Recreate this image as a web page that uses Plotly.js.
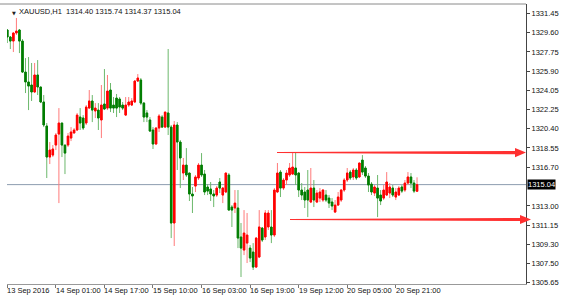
<!DOCTYPE html>
<html><head><meta charset="utf-8">
<script src="https://cdn.plot.ly/plotly-3.0.1.min.js"></script>
<style>html,body{margin:0;padding:0;background:#fff;}#c{width:562px;height:298px;}</style>
</head><body><div id="c"></div>
<script>
const openP = [1329.85,1329.18,1328.79,1329.56,1329.85,1328.79,1325.82,1324.87,1324.58,1323.91,1325.54,1324.39,1322.95,1320.65,1317.68,1317.87,1318.83,1319.88,1320.94,1318.83,1318.83,1319.50,1319.98,1320.27,1321.51,1321.42,1320.94,1322.37,1323.05,1322.09,1322.18,1321.23,1322.76,1322.37,1324.10,1322.66,1323.33,1323.24,1322.66,1321.70,1322.66,1322.66,1322.95,1324.96,1325.06,1322.85,1321.90,1321.23,1320.27,1318.93,1320.46,1321.51,1320.55,1321.90,1320.55,1311.36,1320.75,1319.12,1316.15,1316.91,1316.15,1314.14,1314.90,1315.67,1316.91,1316.05,1314.81,1314.62,1314.14,1314.04,1315.29,1314.04,1314.33,1315.96,1312.89,1312.80,1312.80,1310.02,1308.77,1309.44,1308.96,1308.58,1307.14,1308.10,1310.88,1310.02,1310.98,1310.98,1310.21,1314.33,1316.24,1314.71,1315.48,1315.96,1316.05,1316.63,1316.15,1314.52,1314.33,1314.52,1313.37,1314.71,1313.37,1313.75,1313.56,1314.04,1313.75,1313.37,1312.41,1313.08,1313.56,1314.52,1315.48,1316.24,1315.77,1316.44,1315.77,1317.39,1316.63,1315.86,1315.09,1314.23,1314.71,1314.04,1313.75,1314.04,1314.23,1314.71,1313.85,1314.04,1314.81,1314.52,1315.19,1315.77,1315.19,1314.40];
const highP = [1329.94,1329.27,1329.65,1331.00,1329.94,1328.98,1327.16,1327.26,1326.69,1326.69,1326.97,1324.39,1323.62,1320.94,1319.12,1318.83,1319.98,1322.37,1320.94,1318.83,1319.98,1320.55,1320.46,1321.90,1322.37,1321.70,1322.66,1324.10,1323.62,1322.85,1322.85,1324.58,1326.11,1325.54,1324.77,1323.43,1323.72,1323.43,1322.95,1323.43,1323.43,1323.33,1325.06,1325.63,1325.25,1322.95,1322.18,1321.51,1320.55,1320.55,1321.80,1321.70,1321.99,1328.03,1320.75,1321.13,1321.03,1319.31,1317.59,1318.54,1316.15,1314.81,1315.96,1317.11,1318.06,1316.44,1315.09,1315.29,1314.52,1314.90,1315.67,1314.81,1316.15,1316.15,1313.08,1314.52,1314.52,1311.36,1312.60,1312.32,1309.25,1309.44,1310.02,1312.60,1310.98,1312.60,1312.60,1312.60,1314.71,1317.11,1316.44,1315.67,1316.44,1317.11,1318.16,1318.16,1316.24,1315.19,1314.81,1316.44,1316.63,1315.48,1314.52,1314.71,1314.62,1314.52,1314.04,1313.75,1313.56,1314.33,1314.62,1315.67,1316.63,1316.44,1316.63,1316.63,1317.11,1317.87,1316.82,1316.15,1315.29,1315.00,1315.96,1314.52,1315.00,1316.24,1315.19,1315.00,1314.71,1314.90,1315.00,1315.48,1316.24,1316.15,1315.48,1315.74];
const lowP = [1328.60,1328.03,1327.74,1329.37,1327.64,1325.73,1323.81,1322.18,1323.05,1323.81,1323.62,1322.85,1320.55,1315.67,1317.01,1317.68,1318.35,1313.27,1317.68,1316.05,1318.64,1319.21,1319.98,1320.17,1320.27,1320.27,1320.75,1322.37,1321.03,1321.42,1320.27,1319.50,1322.18,1322.18,1321.99,1321.90,1321.51,1321.90,1322.18,1321.61,1322.47,1322.57,1322.85,1324.87,1322.66,1321.03,1321.03,1320.08,1318.45,1318.83,1320.08,1320.46,1320.46,1319.79,1309.92,1309.16,1316.44,1314.71,1315.48,1315.77,1313.47,1312.32,1314.33,1315.48,1315.77,1314.04,1314.04,1313.47,1312.89,1313.85,1314.23,1313.27,1314.23,1312.60,1310.98,1312.32,1308.96,1306.19,1308.29,1307.53,1307.62,1306.86,1307.05,1308.01,1309.54,1309.73,1310.69,1309.44,1310.02,1314.23,1313.85,1314.52,1315.00,1315.77,1315.96,1315.00,1313.85,1313.56,1312.80,1311.93,1313.27,1312.89,1313.27,1313.37,1313.37,1313.37,1312.80,1312.60,1312.32,1312.99,1313.37,1314.33,1315.29,1315.48,1315.48,1315.48,1315.67,1315.96,1315.67,1314.33,1314.04,1313.95,1311.93,1313.08,1313.56,1313.95,1313.75,1313.85,1313.56,1313.95,1314.23,1314.33,1315.00,1314.71,1314.23,1314.37];
const closeP = [1329.18,1328.79,1329.56,1329.75,1328.79,1325.82,1324.87,1324.48,1323.91,1325.54,1324.39,1322.95,1320.75,1317.68,1318.35,1318.45,1319.79,1320.94,1318.83,1318.06,1319.69,1320.08,1320.27,1321.70,1320.94,1320.46,1322.47,1323.05,1322.18,1322.37,1321.42,1322.66,1322.28,1324.00,1322.37,1322.37,1322.37,1322.47,1322.37,1322.66,1322.95,1323.05,1324.96,1325.25,1322.85,1321.51,1321.51,1320.17,1318.93,1320.46,1321.61,1320.55,1321.99,1320.55,1311.36,1320.75,1319.12,1317.59,1316.91,1315.96,1314.14,1313.95,1315.77,1316.91,1315.96,1314.33,1314.42,1314.14,1313.95,1314.71,1314.71,1314.71,1316.15,1312.60,1312.60,1313.27,1309.92,1308.96,1310.40,1310.21,1308.01,1307.14,1309.92,1310.98,1309.73,1312.32,1312.32,1310.21,1314.52,1316.15,1314.71,1315.48,1316.15,1316.63,1316.72,1315.96,1314.52,1314.04,1313.56,1313.56,1314.71,1313.56,1314.23,1314.33,1314.52,1313.56,1313.27,1312.99,1313.08,1313.85,1314.52,1315.48,1316.15,1315.67,1316.44,1315.67,1317.11,1316.24,1315.86,1315.00,1314.33,1314.81,1313.75,1313.47,1314.52,1315.29,1314.81,1314.04,1314.33,1314.71,1314.42,1315.19,1315.77,1315.19,1314.42,1315.04];

const xTickIdx = [0,16,32,48,64,80,96,112,128];
const xTickLabels = ["13 Sep 2016","14 Sep 01:00","14 Sep 17:00","15 Sep 10:00","16 Sep 03:00","16 Sep 19:00","19 Sep 12:00","20 Sep 05:00","20 Sep 21:00"];
const yTickVals = [1331.45,1329.60,1327.75,1325.90,1324.05,1322.25,1320.40,1318.55,1316.70,1313.00,1311.15,1309.30,1307.50,1305.65];
const lastPrice = 1315.04;
const upperLevel = 1318.11;
const lowerLevel = 1311.70;
const header = "XAUUSD,H1  1314.40 1315.74 1314.37 1315.04";

const idx = openP.map((_, i) => i);
const bodyHigh = openP.map((o, i) => Math.max(o, closeP[i]));
const bodyLow = openP.map((o, i) => Math.min(o, closeP[i]));

const RED = '#ff0000', RED_W = '#ff7a7a', GRN = '#007d00', GRN_W = '#6cb86c';

const traces = [
  {type:'candlestick', x:idx, open:openP, high:highP, low:lowP, close:closeP,
   increasing:{line:{color:RED_W,width:1}, fillcolor:RED_W},
   decreasing:{line:{color:GRN_W,width:1}, fillcolor:GRN_W},
   hoverinfo:'skip', showlegend:false},
  {type:'candlestick', x:idx, open:openP, high:bodyHigh, low:bodyLow, close:closeP,
   increasing:{line:{color:RED,width:1}, fillcolor:RED},
   decreasing:{line:{color:GRN,width:1}, fillcolor:GRN},
   hoverinfo:'skip', showlegend:false}
];

const L = 7, R = 526, W = R - L, H = 280;
const px = p => (p - L) / W;
const unit = 1/10.44;

function arrowPath(level, x0, xb, xt, thin, thick, head) {
  return `M ${px(x0)} ${level + thin*unit} L ${px(xb)} ${level + thick*unit} L ${px(xb)} ${level + head*unit} L ${px(xt)} ${level} L ${px(xb)} ${level - head*unit} L ${px(xb)} ${level - thick*unit} L ${px(x0)} ${level - thin*unit} Z`;
}

const shapes = [
  {type:'line', xref:'paper', yref:'y', x0:0, x1:1, y0:lastPrice, y1:lastPrice, line:{color:'#8d9db0', width:1}, layer:'below'},
  {type:'line', xref:'paper', yref:'paper', x0:-L/W, x1:1, y0:1, y1:1, line:{color:'#8a8a8a', width:1}},
  {type:'path', xref:'paper', yref:'y', path:arrowPath(upperLevel, 277, 515, 526, 0.5, 1.6, 4.6), fillcolor:'#ff3030', line:{width:0}, layer:'above'},
  {type:'path', xref:'paper', yref:'y', path:arrowPath(lowerLevel, 290, 520, 531, 0.5, 1.6, 4.6), fillcolor:'#ff3030', line:{width:0}, layer:'above'}
];

const annotations = [
  {xref:'paper', yref:'paper', x:px(10), y:1-4/H, xanchor:'left', yanchor:'top', text:'▼', showarrow:false, font:{family:'DejaVu Sans', size:5, color:'#222'}},
  {xref:'paper', yref:'paper', x:px(17), y:1-1/H, xanchor:'left', yanchor:'top', text:header, showarrow:false, font:{family:'Liberation Sans', size:7.5, color:'#111'}},
  {xref:'paper', yref:'y', x:1, xshift:1, y:lastPrice, xanchor:'left', yanchor:'middle', text:lastPrice.toFixed(2), showarrow:false, bgcolor:'#000', borderpad:0, font:{family:'Liberation Sans', size:7.5, color:'#fff'}}
];
xTickIdx.forEach((t, k) => {
  annotations.push({xref:'x', yref:'paper', x:t, y:-6/H, xanchor:'left', yanchor:'middle', xshift:-1,
    text:xTickLabels[k], showarrow:false, borderpad:0, font:{family:'Liberation Sans', size:7.5, color:'#111'}});
});

const layout = {
  width:562, height:298,
  margin:{l:L, r:562-R, t:4, b:14, pad:0},
  paper_bgcolor:'#fff', plot_bgcolor:'#fff',
  showlegend:false, dragmode:false, hovermode:false,
  xaxis:{range:[-0.1,170.9], tickvals:xTickIdx, ticks:'outside', ticklen:3, tickcolor:'#777', showticklabels:false,
         showgrid:false, zeroline:false, showline:true, linecolor:'#999', linewidth:1,
         rangeslider:{visible:false}, fixedrange:true},
  yaxis:{range:[1305.52,1332.34], side:'right', tickvals:yTickVals, ticktext:yTickVals.map(v=>v.toFixed(2)),
         ticks:'outside', ticklen:3, tickcolor:'#444', showgrid:false, zeroline:false, showline:true, linecolor:'#444', linewidth:1,
         fixedrange:true, tickfont:{family:'Liberation Sans', size:7.5, color:'#111'}},
  shapes:shapes, annotations:annotations
};

Plotly.newPlot('c', traces, layout, {staticPlot:true, displayModeBar:false});
</script></body></html>
